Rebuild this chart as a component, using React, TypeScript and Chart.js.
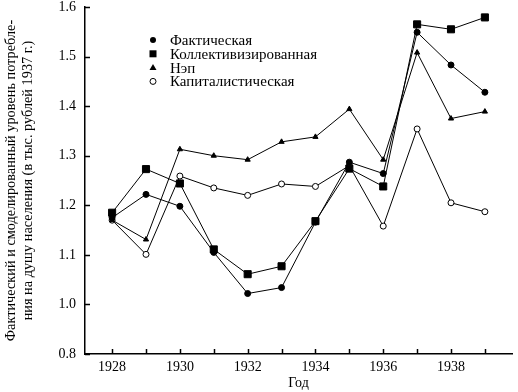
import { useEffect, useRef } from 'react';
import { Chart, registerables } from 'chart.js';
Chart.register(...registerables);

const years = [1928, 1929, 1930, 1931, 1932, 1933, 1934, 1935, 1936, 1937, 1938, 1939];
const actual = [1.175, 1.222, 1.198, 1.105, 1.022, 1.034, 1.166, 1.287, 1.264, 1.549, 1.483, 1.428];
const collective = [1.185, 1.273, 1.244, 1.111, 1.061, 1.077, 1.168, 1.274, 1.238, 1.565, 1.555, 1.579];
const nep = [1.17, 1.131, 1.313, 1.3, 1.292, 1.328, 1.338, 1.394, 1.292, 1.508, 1.375, 1.389];
const capitalist = [1.17, 1.101, 1.259, 1.235, 1.22, 1.243, 1.238, 1.28, 1.158, 1.354, 1.205, 1.187];
const seriesNames = ['Фактическая', 'Коллективизированная', 'Нэп', 'Капиталистическая'];
const xTickLabels = ['1928', '', '1930', '', '1932', '', '1934', '', '1936', '', '1938', ''];
const yTickValues = [0.9, 1.0, 1.1, 1.2, 1.3, 1.4, 1.5, 1.6];
const yTickLabels = ['0.8', '1.0', '1.1', '1.2', '1.3', '1.4', '1.5', '1.6'];
const yTitle = ['Фактический и смоделированный уровень потребле-', 'ния на душу населения (в тыс. рублей 1937 г.)'];
const xTitle = 'Год';

const FONT = '"Liberation Serif", "Times New Roman", serif';

function drawMarker(ctx: CanvasRenderingContext2D, kind: number, x: number, y: number) {
  ctx.beginPath();
  if (kind === 0) {
    ctx.arc(x, y, 3, 0, Math.PI * 2);
    ctx.fillStyle = '#000';
    ctx.fill();
  } else if (kind === 1) {
    ctx.fillStyle = '#000';
    ctx.fillRect(x - 3.5, y - 3.5, 7, 7);
  } else if (kind === 2) {
    ctx.moveTo(x, y - 3.5);
    ctx.lineTo(x + 3.5, y + 2.5);
    ctx.lineTo(x - 3.5, y + 2.5);
    ctx.closePath();
    ctx.fillStyle = '#000';
    ctx.fill();
  } else {
    ctx.arc(x, y, 3, 0, Math.PI * 2);
    ctx.fillStyle = '#fff';
    ctx.fill();
    ctx.lineWidth = 1;
    ctx.strokeStyle = '#000';
    ctx.stroke();
  }
}

const extrasPlugin = {
  id: 'extras',
  afterDatasetsDraw(chart: any) {
    const { ctx, chartArea, scales } = chart;
    ctx.save();
    ctx.strokeStyle = '#000';
    ctx.lineWidth = 1.5;
    for (const v of yTickValues) {
      const y = Math.round(scales.y.getPixelForValue(v)) + 0.5;
      ctx.beginPath();
      ctx.moveTo(chartArea.left, y);
      ctx.lineTo(chartArea.left + 5, y);
      ctx.stroke();
    }
    for (const yr of years) {
      const x = Math.round(scales.x.getPixelForValue(yr)) + 0.5;
      ctx.beginPath();
      ctx.moveTo(x, chartArea.bottom);
      ctx.lineTo(x, chartArea.bottom - 5);
      ctx.stroke();
    }
    // legend
    const lx = chartArea.left + 68;
    const tx = chartArea.left + 85;
    const y0 = chartArea.top + 33;
    const step = 13.8;
    ctx.font = `15px ${FONT}`;
    ctx.textBaseline = 'middle';
    ctx.textAlign = 'left';
    seriesNames.forEach((name, i) => {
      const y = y0 + i * step;
      drawMarker(ctx, i, lx, y);
      ctx.fillStyle = '#000';
      ctx.fillText(name, tx, y + 1);
    });
    ctx.restore();
  },
};

export default function App() {
  const ref = useRef<HTMLCanvasElement>(null);
  useEffect(() => {
    const toPts = (arr: number[]) => arr.map((v, i) => ({ x: years[i], y: v }));
    const base = { borderColor: '#000', borderWidth: 1, showLine: true, tension: 0, pointBorderColor: '#000', pointBorderWidth: 1 };
    const chart = new Chart(ref.current!, {
      type: 'scatter',
      data: {
        datasets: [
          { ...base, label: seriesNames[0], data: toPts(actual), pointStyle: 'circle', pointRadius: 3, pointBackgroundColor: '#000' },
          { ...base, label: seriesNames[1], data: toPts(collective), pointStyle: 'rect', pointRadius: 5, pointBackgroundColor: '#000' },
          { ...base, label: seriesNames[2], data: toPts(nep), pointStyle: 'triangle', pointRadius: 3, pointBackgroundColor: '#000' },
          { ...base, label: seriesNames[3], data: toPts(capitalist), pointStyle: 'circle', pointRadius: 3, pointBackgroundColor: '#fff' },
        ],
      },
      options: {
        responsive: false,
        animation: false,
        layout: { padding: { top: 7, right: 1, left: 0, bottom: 0 } },
        plugins: { legend: { display: false }, tooltip: { enabled: false } },
        scales: {
          x: {
            type: 'linear',
            min: 1927.2,
            max: 1939.8,
            grid: { display: false, drawTicks: false },
            border: { display: true, color: '#000', width: 1.5 },
            afterBuildTicks: (s: any) => { s.ticks = years.map((v) => ({ value: v })); },
            afterFit: (s: any) => { s.height = 38; s.paddingLeft = 0; s.paddingRight = 0; },
            ticks: {
              autoSkip: false,
              maxRotation: 0,
              padding: 5,
              color: '#000',
              font: { family: FONT, size: 14 },
              callback: (_v: any, i: number) => xTickLabels[i],
            },
            title: { display: true, text: xTitle, color: '#000', font: { family: FONT, size: 14 }, padding: { top: 0, bottom: 0 } },
          },
          y: {
            type: 'linear',
            min: 0.9,
            max: 1.6,
            grid: { display: false, drawTicks: false },
            border: { display: true, color: '#000', width: 1.5 },
            afterBuildTicks: (s: any) => { s.ticks = yTickValues.map((v) => ({ value: v })); },
            afterFit: (s: any) => { s.width = 85; s.paddingTop = 0; s.paddingBottom = 0; },
            ticks: {
              padding: 9,
              color: '#000',
              font: { family: FONT, size: 14 },
              callback: (_v: any, i: number) => yTickLabels[i],
            },
            title: { display: true, text: yTitle, color: '#000', font: { family: FONT, size: 14.3 }, padding: { top: 3, bottom: 2 } },
          },
        },
      },
      plugins: [extrasPlugin],
    });
    return () => chart.destroy();
  }, []);
  return (
    <div style={{ position: 'fixed', left: 0, top: 0, width: 518, height: 392, background: '#fff' }}>
      <canvas ref={ref} width={518} height={392} style={{ width: 518, height: 392 }} />
    </div>
  );
}
